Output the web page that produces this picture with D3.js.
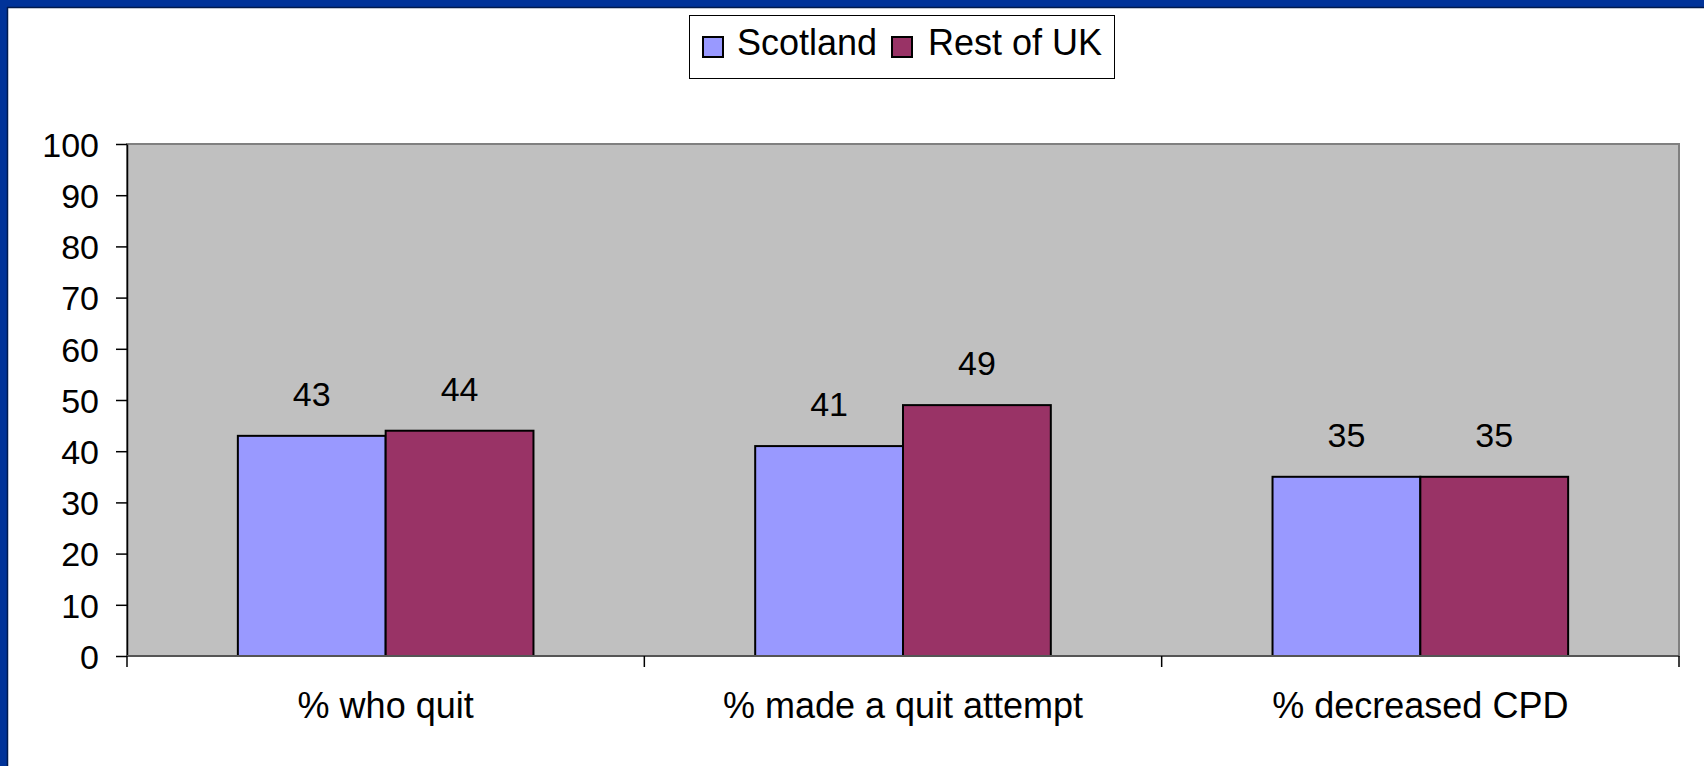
<!DOCTYPE html>
<html>
<head>
<meta charset="utf-8">
<script src="https://cdn.jsdelivr.net/npm/d3@7"></script>
<style>
  html, body { margin: 0; padding: 0; background: #fff; }
  svg { display: block; font-family: Arial, "Liberation Sans", sans-serif; }
</style>
</head>
<body>
<svg id="chart" width="1704" height="766"></svg>
<script>
// Survey outcomes by region
const categories = ["% who quit", "% made a quit attempt", "% decreased CPD"];
const seriesNames = ["Scotland", "Rest of UK"];
const scotland = [43, 41, 35];
const restOfUK = [44, 49, 35];
const yTicks = [0, 10, 20, 30, 40, 50, 60, 70, 80, 90, 100];

const colors = { "Scotland": "#9999FF", "Rest of UK": "#993366" };
const values = { "Scotland": scotland, "Rest of UK": restOfUK };

const W = 1704, H = 766;
const plot = { left: 127, right: 1679, top: 144, bottom: 656 };
const fontSize = 34;
const labelFontSize = 36;

const svg = d3.select("#chart");

// Slide frame: blue band along the top and left edges
svg.append("rect").attr("x", 0).attr("y", 0).attr("width", W).attr("height", H).attr("fill", "#fff");
svg.append("rect").attr("x", 0).attr("y", 0).attr("width", W).attr("height", 7).attr("fill", "#003399");
svg.append("rect").attr("x", 0).attr("y", 0).attr("width", 7).attr("height", H).attr("fill", "#003399");
svg.append("line").attr("x1", 7).attr("x2", W).attr("y1", 7.5).attr("y2", 7.5).attr("stroke", "#001a4d").attr("stroke-width", 1.5);
svg.append("line").attr("x1", 7.5).attr("x2", 7.5).attr("y1", 7).attr("y2", H).attr("stroke", "#001a4d").attr("stroke-width", 1.5);

const x = d3.scaleBand().domain(categories).range([plot.left, plot.right]).paddingInner(0).paddingOuter(0);
// Excel-style gap of 150% of a bar width between groups
const barW = x.bandwidth() / (seriesNames.length + 1.5);
const gap = x.bandwidth() - barW * seriesNames.length;
const xs = d3.scaleBand().domain(seriesNames).range([gap / 2, x.bandwidth() - gap / 2]).padding(0);
const y = d3.scaleLinear().domain([0, 100]).range([plot.bottom, plot.top]);

// Plot area
svg.append("rect")
  .attr("x", plot.left).attr("y", plot.top)
  .attr("width", plot.right - plot.left).attr("height", plot.bottom - plot.top)
  .attr("fill", "#C0C0C0").attr("stroke", "#808080").attr("stroke-width", 2);

// Bars
const groups = svg.append("g").selectAll("g")
  .data(categories).join("g")
  .attr("transform", d => `translate(${x(d)},0)`);

groups.selectAll("rect")
  .data((c, i) => seriesNames.map(s => ({ s, v: values[s][i] })))
  .join("rect")
  .attr("x", d => xs(d.s))
  .attr("y", d => y(d.v))
  .attr("width", xs.bandwidth())
  .attr("height", d => y(0) - y(d.v))
  .attr("fill", d => colors[d.s])
  .attr("stroke", "#000").attr("stroke-width", 2);

groups.selectAll("text")
  .data((c, i) => seriesNames.map(s => ({ s, v: values[s][i] })))
  .join("text")
  .attr("x", d => xs(d.s) + xs.bandwidth() / 2)
  .attr("y", d => y(d.v) - 30)
  .attr("text-anchor", "middle")
  .attr("font-size", fontSize)
  .attr("fill", "#000")
  .text(d => d.v);

// Y axis
const yAxis = svg.append("g")
  .attr("transform", `translate(${plot.left},0)`)
  .call(d3.axisLeft(y).tickValues(yTicks).tickSize(11).tickPadding(17).tickSizeOuter(0));
yAxis.select(".domain").attr("stroke", "#000").attr("stroke-width", 1.5);
yAxis.selectAll(".tick line").attr("stroke", "#000").attr("stroke-width", 1.5);
yAxis.selectAll(".tick text")
  .attr("font-size", fontSize).attr("font-family", "Arial, 'Liberation Sans', sans-serif")
  .attr("fill", "#000").attr("dy", "0.36em");

// X axis: base line, ticks at category boundaries, labels below
svg.append("line")
  .attr("x1", plot.left).attr("x2", plot.right)
  .attr("y1", plot.bottom).attr("y2", plot.bottom)
  .attr("stroke", "#555").attr("stroke-width", 2);
const bounds = categories.map(c => x(c)).concat([x(categories[categories.length - 1]) + x.bandwidth()]);
svg.append("g").selectAll("line")
  .data(bounds).join("line")
  .attr("x1", d => d).attr("x2", d => d)
  .attr("y1", plot.bottom).attr("y2", plot.bottom + 11)
  .attr("stroke", "#000").attr("stroke-width", 1.5);
svg.append("g").selectAll("text")
  .data(categories).join("text")
  .attr("x", d => x(d) + x.bandwidth() / 2)
  .attr("y", 718)
  .attr("text-anchor", "middle")
  .attr("font-size", labelFontSize)
  .attr("fill", "#000")
  .text(d => d);

// Legend
const legend = svg.append("g");
legend.append("rect")
  .attr("x", 689.5).attr("y", 15.5).attr("width", 425).attr("height", 63)
  .attr("fill", "#fff").attr("stroke", "#000").attr("stroke-width", 1);
const legendItems = [
  { s: "Scotland", sx: 703, tx: 737 },
  { s: "Rest of UK", sx: 892, tx: 928 }
];
legendItems.forEach(it => {
  legend.append("rect")
    .attr("x", it.sx).attr("y", 37).attr("width", 20).attr("height", 20)
    .attr("fill", colors[it.s]).attr("stroke", "#000").attr("stroke-width", 2);
  legend.append("text")
    .attr("x", it.tx).attr("y", 55)
    .attr("font-size", labelFontSize).attr("fill", "#000")
    .text(it.s);
});
</script>
</body>
</html>
